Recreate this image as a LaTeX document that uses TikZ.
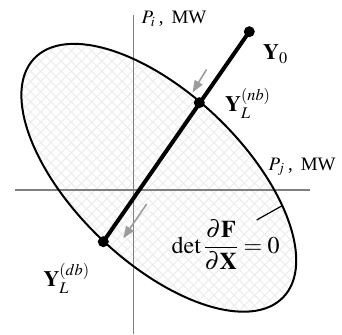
\documentclass[tikz,border=0pt]{standalone}
\usepackage{mathptmx}
\usepackage{fontspec}
\setmainfont{Liberation Serif}
\usetikzlibrary{arrows.meta}
\definecolor{axisgray}{HTML}{808080}
\definecolor{arrowgray}{HTML}{9C9C9C}
\definecolor{hatchgray}{HTML}{EDEDED}
\begin{document}
\begin{tikzpicture}[x=1pt,y=-1pt,
  axis/.style={draw=axisgray,line width=1.3pt},
  hatch/.style={draw=hatchgray,line width=1.1pt},
  rim/.style={draw=black,line width=2pt},
  dotnode/.style={circle,fill=black,inner sep=0pt,minimum size=11pt},
  thickline/.style={draw=black,line width=4pt},
  garrow/.style={draw=arrowgray,line width=1.6pt,-{Triangle[length=12pt,width=9pt]}},
  leader/.style={draw=black,line width=1.2pt},
  axlabel/.style={inner sep=0pt,anchor=base west,font=\fontsize{19}{23}\selectfont},
  ylbl/.style={inner sep=0pt,anchor=base west,font=\fontsize{22}{26}\selectfont},
  flbl/.style={inner sep=0pt,anchor=base west,font=\fontsize{24}{28}\selectfont}]
\useasboundingbox (0,0) rectangle (342,334);
\coordinate (c) at (158.8,177.8);
% hatched interior
\begin{scope}
  \clip[rotate around={-43.8:(c)}] (c) ellipse [x radius=172.5pt, y radius=84pt];
  \draw[hatch,rotate=45] (-400,-400) grid[step=7.2pt] (700,700);
\end{scope}
% axes
\coordinate (vt) at (133.3,15);
\coordinate (vb) at (133.3,334);
\coordinate (hl) at (15,190);
\coordinate (hr) at (310,190);
\draw[axis] (vt) -- (vb);
\draw[axis] (hl) -- (hr);
% ellipse boundary
\draw[rim,rotate around={-43.8:(c)}] (c) ellipse [x radius=172.5pt, y radius=84pt];
% points
\node[dotnode] (y0) at (249.3,31.7) {};
\node[dotnode] (ynb) at (199.3,102.7) {};
\node[dotnode] (ydb) at (103.3,241.7) {};
\draw[thickline] (y0.center) -- (ydb.center);
% gray arrows
\coordinate (a1s) at (206.5,69.5);
\coordinate (a1e) at (192.5,92.5);
\coordinate (a2s) at (146.7,204);
\coordinate (a2e) at (123.3,238.3);
\draw[garrow] (a1s) -- (a1e);
\draw[garrow] (a2s) -- (a2e);
% leader
\coordinate (ls) at (256.7,220);
\coordinate (le) at (282.5,205.5);
\draw[leader] (ls) -- (le);
% labels
\node[axlabel] (tpi) at (141.5,23.3) {$P_i$\kern3.5pt,\kern8pt MW};
\node[axlabel] (tpj) at (268.3,170) {$P_j$\kern3.5pt,\kern8pt MW};
\node[ylbl] (ty0) at (263,60) {$\mathbf{Y}_0$};
\node[ylbl] (tnb) at (225,111.7) {$\mathbf{Y}_L^{(nb)}$};
\node[ylbl] (tdb) at (43.3,286.7) {$\mathbf{Y}_L^{(db)}$};
\node[flbl] (tf) at (171.5,253.3) {$\displaystyle\det\frac{\partial\mathbf{F}}{\partial\mathbf{X}}=0$};
\end{tikzpicture}
\end{document}
